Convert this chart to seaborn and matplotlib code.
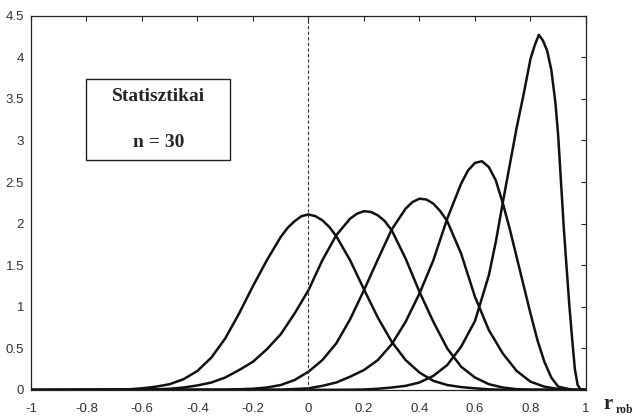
import pandas as pd
import matplotlib
matplotlib.use("Agg")
import matplotlib.pyplot as plt
import seaborn as sns
from matplotlib.patches import Rectangle

# =========================
# DATA
# =========================
rho_labels = ["0", "0.2", "0.4", "0.6", "0.8"]

x_r0 = [-1.0, -0.7, -0.65, -0.6, -0.55, -0.5, -0.45, -0.4, -0.35, -0.3, -0.25,
        -0.2, -0.15, -0.1, -0.075, -0.05, -0.025, 0.0, 0.025, 0.05, 0.075, 0.1,
        0.15, 0.2, 0.25, 0.3, 0.35, 0.4, 0.45, 0.5, 0.55, 0.6, 0.65, 0.7, 1.0]
y_r0 = [0, 0.003, 0.008, 0.02, 0.04, 0.07, 0.13, 0.23, 0.39, 0.62, 0.92,
        1.25, 1.56, 1.84, 1.95, 2.03, 2.09, 2.11, 2.09, 2.04, 1.96, 1.85,
        1.56, 1.21, 0.87, 0.58, 0.36, 0.21, 0.11, 0.06, 0.035, 0.02, 0.008, 0.003, 0]

x_r2 = [-1.0, -0.55, -0.5, -0.45, -0.4, -0.35, -0.3, -0.25, -0.2, -0.15, -0.1,
        -0.05, 0.0, 0.05, 0.1, 0.15, 0.175, 0.2, 0.225, 0.25, 0.275, 0.3, 0.35,
        0.4, 0.45, 0.5, 0.55, 0.6, 0.65, 0.7, 0.75, 0.8, 1.0]
y_r2 = [0, 0.008, 0.015, 0.03, 0.055, 0.09, 0.15, 0.24, 0.34, 0.49, 0.67,
        0.92, 1.2, 1.56, 1.86, 2.06, 2.12, 2.15, 2.14, 2.1, 2.03, 1.92, 1.58,
        1.18, 0.82, 0.5, 0.28, 0.15, 0.07, 0.03, 0.01, 0.004, 0]

x_r4 = [-1.0, -0.3, -0.2, -0.15, -0.1, -0.05, 0.0, 0.05, 0.1, 0.15, 0.2, 0.25,
        0.3, 0.35, 0.375, 0.4, 0.425, 0.45, 0.475, 0.5, 0.55, 0.6, 0.65, 0.7,
        0.75, 0.8, 0.85, 0.9, 0.95, 1.0]
y_r4 = [0, 0.003, 0.015, 0.03, 0.06, 0.12, 0.22, 0.36, 0.56, 0.85, 1.2, 1.57,
        1.93, 2.18, 2.26, 2.3, 2.29, 2.24, 2.15, 2.03, 1.64, 1.12, 0.72, 0.44,
        0.23, 0.1, 0.04, 0.012, 0.002, 0]

x_r6 = [-1.0, -0.1, 0.0, 0.05, 0.1, 0.15, 0.2, 0.25, 0.3, 0.35, 0.4, 0.45,
        0.5, 0.55, 0.575, 0.6, 0.625, 0.65, 0.675, 0.7, 0.725, 0.75, 0.775,
        0.8, 0.825, 0.85, 0.875, 0.9, 0.95, 1.0]
y_r6 = [0, 0.003, 0.02, 0.05, 0.09, 0.16, 0.24, 0.36, 0.55, 0.82, 1.16, 1.56,
        2.06, 2.48, 2.64, 2.73, 2.75, 2.68, 2.52, 2.25, 1.94, 1.6, 1.26,
        0.92, 0.6, 0.34, 0.15, 0.04, 0.003, 0]

x_r8 = [-1.0, 0.1, 0.2, 0.25, 0.3, 0.35, 0.4, 0.45, 0.5, 0.55, 0.6, 0.65,
        0.675, 0.7, 0.725, 0.75, 0.775, 0.8, 0.815, 0.83, 0.845, 0.86, 0.875,
        0.89, 0.9, 0.91, 0.92, 0.93, 0.94, 0.95, 0.96, 0.97, 0.98, 1.0]
y_r8 = [0, 0.002, 0.006, 0.015, 0.03, 0.05, 0.09, 0.17, 0.3, 0.52, 0.83, 1.38,
        1.78, 2.25, 2.7, 3.15, 3.55, 3.98, 4.14, 4.27, 4.2, 4.08, 3.85,
        3.45, 3.05, 2.5, 1.95, 1.48, 1.02, 0.62, 0.25, 0.06, 0.01, 0]

x_ticks = [-1, -0.8, -0.6, -0.4, -0.2, 0, 0.2, 0.4, 0.6, 0.8, 1]
x_ticklabels = ["-1", "-0.8", "-0.6", "-0.4", "-0.2", "0", "0.2", "0.4", "0.6", "0.8", "1"]
y_ticks = [0, 0.5, 1, 1.5, 2, 2.5, 3, 3.5, 4, 4.5]
y_ticklabels = ["0", "0.5", "1", "1.5", "2", "2.5", "3", "3.5", "4", "4.5"]

# =========================
# TABLE
# =========================
frames = []
for lab, xs, ys in zip(rho_labels, [x_r0, x_r2, x_r4, x_r6, x_r8],
                       [y_r0, y_r2, y_r4, y_r6, y_r8]):
    frames.append(pd.DataFrame({"r": xs, "dens": ys, "rho": lab}))
df = pd.concat(frames, ignore_index=True)

# =========================
# PLOT
# =========================
sns.set_style("white")
plt.rcParams["font.family"] = ["Liberation Sans", "DejaVu Sans"]

fig = plt.figure(figsize=(6.35, 4.16), dpi=100)
ax = fig.add_axes([0.0488, 0.0625, 0.874, 0.8998])

sns.lineplot(data=df, x="r", y="dens", hue="rho", palette=["#111111"] * 5,
             linewidth=1.8, legend=False, ax=ax, sort=True)

ax.axvline(0, linestyle=(0, (3, 2)), linewidth=0.8, color="#333333")

ax.set_xlim(-1, 1)
ax.set_ylim(0, 4.5)
ax.set_xticks(x_ticks)
ax.set_xticklabels(x_ticklabels)
ax.set_yticks(y_ticks)
ax.set_yticklabels(y_ticklabels)
ax.set_xlabel("")
ax.set_ylabel("")

ax.tick_params(axis="both", direction="in", length=3.5, width=0.8,
               top=True, right=True, labelsize=9.5, labelcolor="#333333")
ax.tick_params(axis="x", pad=9)
ax.tick_params(axis="y", pad=5)
for s in ax.spines.values():
    s.set_visible(True)
    s.set_color("#222222")
    s.set_linewidth(0.9)

# text box
ax.add_patch(Rectangle((-0.80, 2.76), 0.518, 0.98, fill=False,
                       edgecolor="#222222", linewidth=1.0))
ax.text(-0.541, 3.53, "Statisztikai", ha="center", va="center",
        fontsize=14, fontweight="bold", family="Liberation Serif")
ax.text(-0.541, 2.97, "n = 30", ha="center", va="center",
        fontsize=14, fontweight="bold", family="Liberation Serif")

# axis label r_rob
fig.text(0.951, 0.018, "r", fontsize=15, fontweight="bold",
         family="Liberation Serif", ha="left", va="baseline")
fig.text(0.969, 0.008, "rob", fontsize=8.5, fontweight="bold",
         family="Liberation Serif", ha="left", va="baseline")

fig.savefig("out.png", dpi=100, facecolor="white")
